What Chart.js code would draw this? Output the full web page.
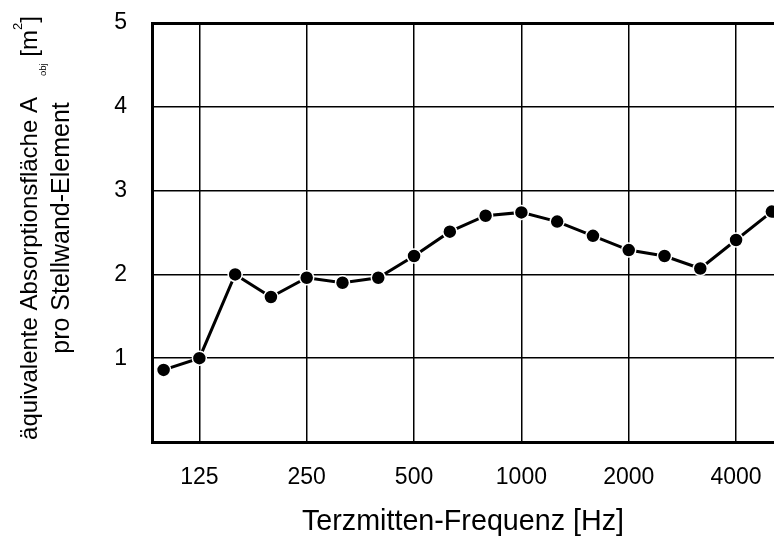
<!DOCTYPE html>
<html>
<head>
<meta charset="utf-8">
<script src="https://cdn.jsdelivr.net/npm/chart.js@4"></script>
<style>
  html, body { margin: 0; padding: 0; background: #fff; }
  .chart { width: 774px; height: 539px; }
</style>
</head>
<body>
<div class="chart"><canvas id="myChart" width="774" height="539"></canvas></div>
<script>
// third-octave centre frequencies and measured values
const freqs = ['100', '125', '160', '200', '250', '315', '400', '500', '630', '800',
               '1000', '1250', '1600', '2000', '2500', '3150', '4000', '5000'];
const values = [0.86, 1.00, 2.00, 1.73, 1.96, 1.90, 1.96, 2.22, 2.51, 2.70,
                2.74, 2.63, 2.46, 2.29, 2.22, 2.07, 2.41, 2.75];
const tickFreqs = ['125', '250', '500', '1000', '2000', '4000'];
const yTicks = [1, 2, 3, 4, 5];

const xTitle = 'Terzmitten-Frequenz [Hz]';
const yTitleMain = 'äquivalente Absorptionsfläche A';
const yTitleSub = 'obj';
const yTitleUnit = ' [m';
const yTitleSup = '2';
const yTitleEnd = ']';
const yTitle2 = 'pro Stellwand-Element';

const FONT = '"Liberation Sans", Arial, sans-serif';

// y title with subscript / superscript drawn on the canvas
const yTitlePlugin = {
    id: 'yTitle',
    afterDraw(chart) {
        const ctx = chart.ctx;
        const parts = [
            { t: yTitleMain, s: 24, dy: 0, gap: 0 },
            { t: yTitleSub, s: 9.5, dy: 9, gap: 21 },
            { t: yTitleUnit, s: 24, dy: 0, gap: 0 },
            { t: yTitleSup, s: 13, dy: -15, gap: 0 },
            { t: yTitleEnd, s: 24, dy: 0, gap: 0 }
        ];
        ctx.save();
        ctx.fillStyle = '#000';
        ctx.textBaseline = 'alphabetic';
        ctx.textAlign = 'left';
        let total = 0;
        parts.forEach(p => {
            ctx.font = p.s + 'px ' + FONT;
            p.w = ctx.measureText(p.t).width;
            total += p.gap + p.w;
        });
        const cy = 228;
        ctx.translate(36.5, cy + total / 2);
        ctx.rotate(-Math.PI / 2);
        let pos = 0;
        parts.forEach(p => {
            pos += p.gap;
            ctx.font = p.s + 'px ' + FONT;
            ctx.fillText(p.t, pos, p.dy);
            pos += p.w;
        });
        ctx.restore();

        ctx.save();
        ctx.fillStyle = '#000';
        ctx.font = '25px ' + FONT;
        ctx.textAlign = 'center';
        ctx.textBaseline = 'alphabetic';
        ctx.translate(68.5, cy);
        ctx.rotate(-Math.PI / 2);
        ctx.fillText(yTitle2, 0, 0);
        ctx.restore();
    }
};

let ctx = document.querySelector('#myChart').getContext('2d');

let myChart = new Chart(ctx, {
    type: 'line',
    data: {
        datasets: [{
            data: values.map((v, i) => ({ x: i, y: v })),
            borderColor: '#000',
            borderWidth: 3,
            tension: 0,
            pointRadius: 7,
            pointBackgroundColor: '#000',
            pointBorderColor: '#fff',
            pointBorderWidth: 1.5,
            pointHoverRadius: 7
        }]
    },
    options: {
        responsive: false,
        animation: false,
        events: [],
        layout: {
            autoPadding: false,
            padding: { top: 23, right: 0, bottom: 0, left: 0 }
        },
        plugins: {
            legend: { display: false },
            tooltip: { enabled: false }
        },
        scales: {
            x: {
                type: 'linear',
                min: -0.324,
                max: 17.06,
                afterBuildTicks: (scale) => {
                    scale.ticks = tickFreqs.map(f => ({ value: freqs.indexOf(f) }));
                },
                afterFit: (scale) => {
                    scale.height = 97;
                    scale.paddingLeft = 0;
                    scale.paddingRight = 0;
                },
                ticks: {
                    autoSkip: false,
                    maxRotation: 0,
                    padding: 22,
                    color: '#000',
                    font: { family: FONT, size: 23 },
                    callback: (v) => freqs[v]
                },
                grid: {
                    color: '#000',
                    lineWidth: 1.5,
                    drawTicks: false
                },
                border: { display: true, color: '#000', width: 3 },
                title: {
                    display: true,
                    text: xTitle,
                    color: '#000',
                    padding: { top: 0, bottom: 0 },
                    font: { family: FONT, size: 28.7, lineHeight: 1.15 }
                }
            },
            y: {
                min: 0,
                max: 5,
                afterBuildTicks: (scale) => {
                    scale.ticks = [0].concat(yTicks).map(v => ({ value: v }));
                },
                afterFit: (scale) => {
                    scale.width = 152;
                    scale.paddingTop = 0;
                    scale.paddingBottom = 0;
                },
                ticks: {
                    padding: 25,
                    color: '#000',
                    font: { family: FONT, size: 23 },
                    callback: (v) => (v === 0 ? '' : String(v))
                },
                grid: {
                    color: '#000',
                    lineWidth: (c) => (c.tick && c.tick.value === 5 ? 3 : 1.5),
                    drawTicks: false
                },
                border: { display: true, color: '#000', width: 3 }
            }
        }
    },
    plugins: [yTitlePlugin]
});
</script>
</body>
</html>
